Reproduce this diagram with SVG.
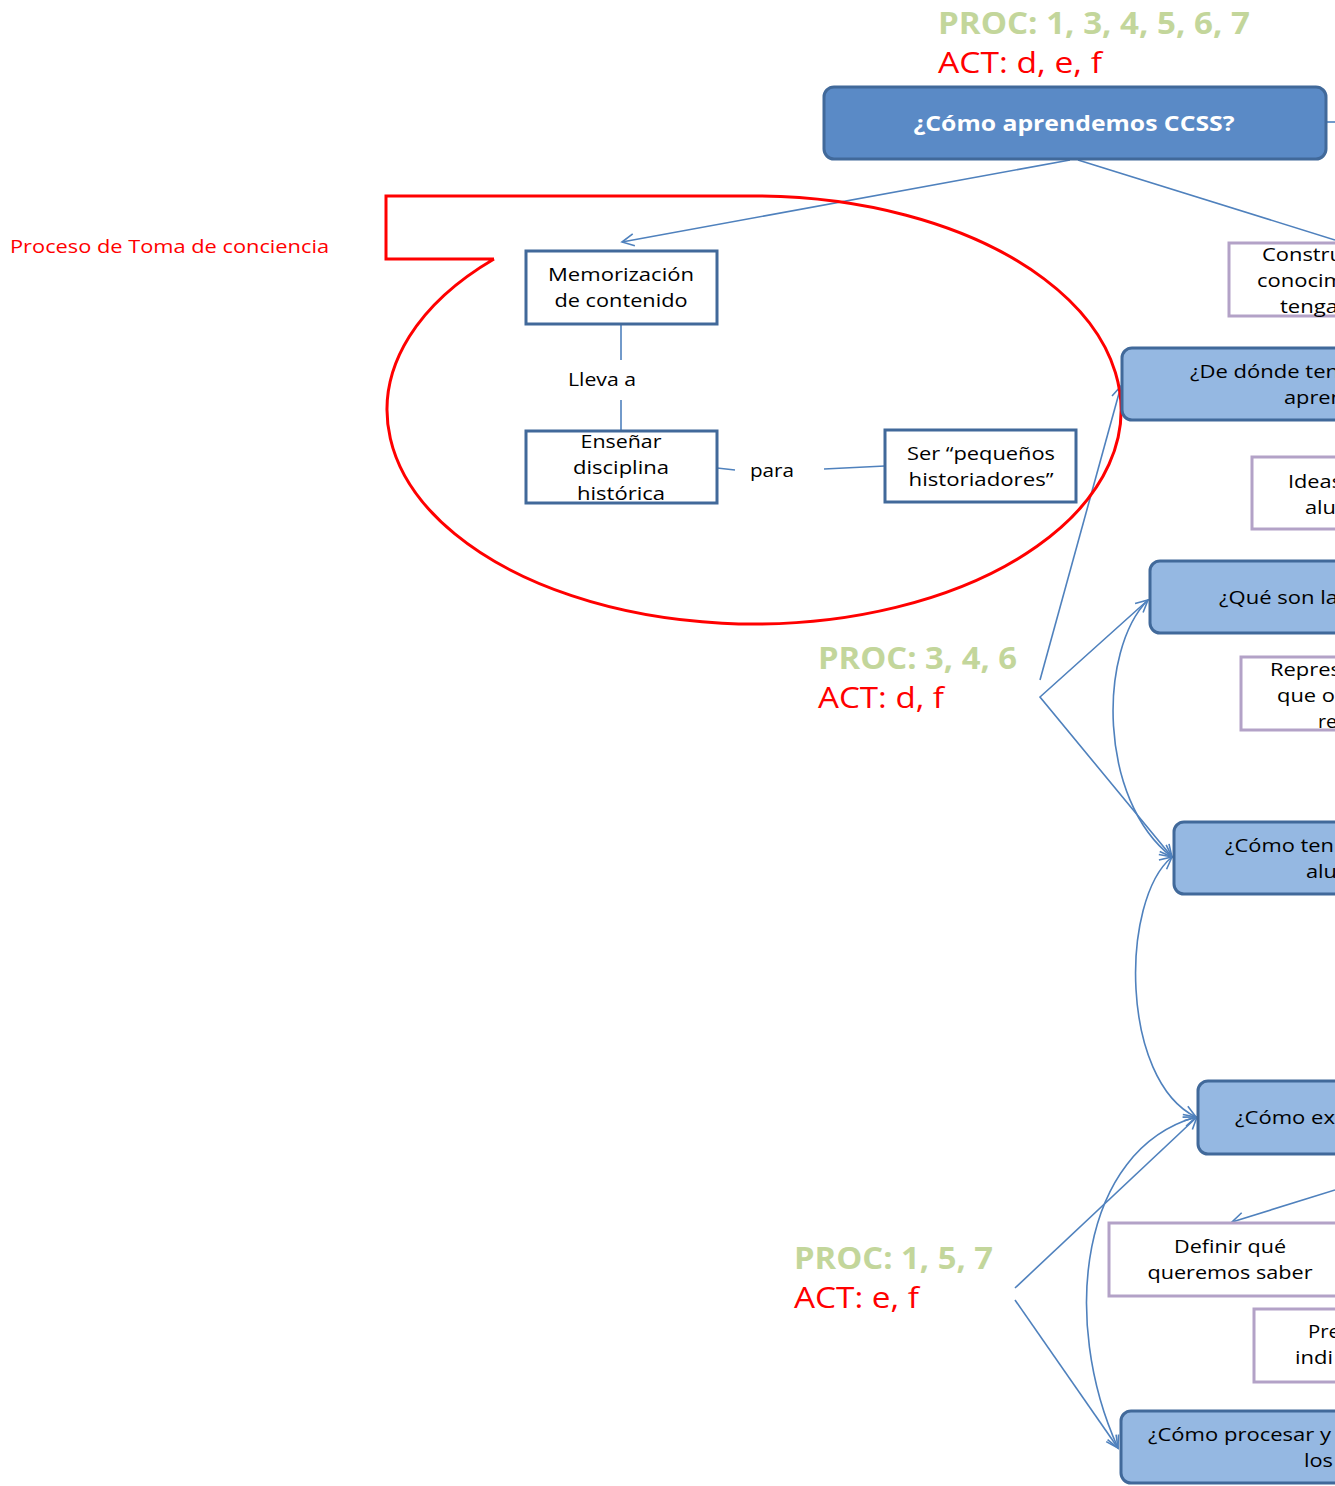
<svg xmlns="http://www.w3.org/2000/svg" width="1335" height="1486" viewBox="0 0 1335 1486">
  <defs>
    <marker id="arr" markerUnits="userSpaceOnUse" markerWidth="16" markerHeight="16" viewBox="0 0 16 16" refX="13" refY="8" orient="auto-start-reverse">
      <path d="M1,2 L13,8 L1,14" fill="none" stroke="#4F81BD" stroke-width="1.6"/>
    </marker>
    <style>
      .t { font-family: "Open Sans", "Liberation Sans", sans-serif; font-size: 19px; fill: #000; }
      .c { text-anchor: middle; }
      .dark { fill: #FFFFFF; stroke: #41699A; stroke-width: 3; }
      .q { fill: #95B8E2; stroke: #41699A; stroke-width: 3; }
      .lav { fill: #FFFFFF; stroke: #B3A2C7; stroke-width: 3; }
      .main { fill: #5A8AC6; stroke: #41699A; stroke-width: 3; }
      .proc { font-family: "Open Sans", "Liberation Sans", sans-serif; font-weight: bold; font-size: 30px; fill: #C3D69B; }
      .act { font-family: "Open Sans", "Liberation Sans", sans-serif; font-size: 30px; fill: #FF0000; }
      .cn { fill: none; stroke: #4F81BD; stroke-width: 1.6; }
    </style>
  </defs>

  <rect width="1335" height="1486" fill="#FFFFFF"/>

  <!-- connectors -->
  <g id="connectors">
    <line class="cn" x1="1326" y1="122" x2="1335" y2="122"/>
    <line class="cn" x1="1070" y1="160" x2="622" y2="242" marker-end="url(#arr)"/>
    <line class="cn" x1="1078" y1="160" x2="1335" y2="240"/>
    <line class="cn" x1="621" y1="324" x2="621" y2="360"/>
    <line class="cn" x1="621" y1="400" x2="621" y2="431"/>
    <line class="cn" x1="717" y1="468" x2="735" y2="470"/>
    <line class="cn" x1="824" y1="469" x2="885" y2="466"/>
    <line class="cn" x1="1040" y1="680" x2="1121" y2="386" marker-end="url(#arr)"/>
    <polyline class="cn" points="1148,600 1040,697 1172,857" marker-start="url(#arr)" marker-end="url(#arr)"/>
    <path class="cn" d="M1148,600 C1098,650 1098,800 1172,857" marker-end="url(#arr)"/>
    <path class="cn" d="M1172,857 C1120,900 1120,1080 1196,1117" marker-start="url(#arr)" marker-end="url(#arr)"/>
    <line class="cn" x1="1015" y1="1288" x2="1197" y2="1117" marker-end="url(#arr)"/>
    <line class="cn" x1="1015" y1="1300" x2="1118" y2="1448" marker-end="url(#arr)"/>
    <path class="cn" d="M1196,1117 C1080,1150 1060,1320 1118,1448" marker-start="url(#arr)" marker-end="url(#arr)"/>
    <line class="cn" x1="1335" y1="1190" x2="1232" y2="1222" marker-end="url(#arr)"/>
  </g>

  <!-- process / activity tags -->
  <text class="proc" x="938" y="34" textLength="312" lengthAdjust="spacingAndGlyphs">PROC: 1, 3, 4, 5, 6, 7</text>
  <text class="act" x="938" y="73" textLength="164" lengthAdjust="spacingAndGlyphs">ACT: d, e, f</text>
  <text class="proc" x="818" y="669" textLength="199" lengthAdjust="spacingAndGlyphs">PROC: 3, 4, 6</text>
  <text class="act" x="818" y="708" textLength="126" lengthAdjust="spacingAndGlyphs">ACT: d, f</text>
  <text class="proc" x="794" y="1269" textLength="199" lengthAdjust="spacingAndGlyphs">PROC: 1, 5, 7</text>
  <text class="act" x="794" y="1308" textLength="125" lengthAdjust="spacingAndGlyphs">ACT: e, f</text>

  <!-- callout -->
  <g id="callout">
    <path d="M494,259 L386,259 L386,196 L752,196 A367,214 0 1 1 494,259" fill="none" stroke="#FF0000" stroke-width="3"/>
    <text x="10" y="253" font-family="Open Sans, Liberation Sans, sans-serif" font-size="19" fill="#FF0000" textLength="319" lengthAdjust="spacingAndGlyphs">Proceso de Toma de conciencia</text>
  </g>

  <g id="main">
    <rect class="main" x="824" y="87" width="502" height="72" rx="10"/>
    <text x="1074" y="131" text-anchor="middle" font-family="Open Sans, Liberation Sans, sans-serif" font-weight="bold" font-size="21" fill="#FFFFFF" textLength="321" lengthAdjust="spacingAndGlyphs">¿Cómo aprendemos CCSS?</text>
  </g>

  <g id="memorizacion">
    <rect class="dark" x="526" y="251" width="191" height="73"/>
    <text class="t c" x="621" y="281" textLength="146" lengthAdjust="spacingAndGlyphs">Memorización</text>
    <text class="t c" x="621" y="307" textLength="133" lengthAdjust="spacingAndGlyphs">de contenido</text>
  </g>
  <text class="t c" x="602" y="386" textLength="68" lengthAdjust="spacingAndGlyphs">Lleva a</text>

  <g id="ensenar">
    <rect class="dark" x="526" y="431" width="191" height="72"/>
    <text class="t c" x="621" y="448" textLength="81" lengthAdjust="spacingAndGlyphs">Enseñar</text>
    <text class="t c" x="621" y="474" textLength="96" lengthAdjust="spacingAndGlyphs">disciplina</text>
    <text class="t c" x="621" y="500" textLength="88" lengthAdjust="spacingAndGlyphs">histórica</text>
  </g>
  <text class="t c" x="772" y="477" textLength="44" lengthAdjust="spacingAndGlyphs">para</text>

  <g id="historiadores">
    <rect class="dark" x="885" y="430" width="191" height="72"/>
    <text class="t c" x="981" y="460" textLength="148" lengthAdjust="spacingAndGlyphs">Ser “pequeños</text>
    <text class="t c" x="981" y="486" textLength="145" lengthAdjust="spacingAndGlyphs">historiadores”</text>
  </g>

  <g id="construir">
    <rect class="lav" x="1229" y="243" width="130" height="73"/>
    <text class="t" x="1262" y="261" textLength="81" lengthAdjust="spacingAndGlyphs">Constru</text>
    <text class="t" x="1257" y="287" textLength="87" lengthAdjust="spacingAndGlyphs">conocim</text>
    <text class="t" x="1280" y="313" textLength="58" lengthAdjust="spacingAndGlyphs">tenga</text>
  </g>

  <g id="de-donde">
    <rect class="q" x="1122" y="348" width="240" height="72" rx="10"/>
    <text class="t" x="1190" y="378" textLength="149" lengthAdjust="spacingAndGlyphs">¿De dónde ten</text>
    <text class="t" x="1284" y="404" textLength="60" lengthAdjust="spacingAndGlyphs">apren</text>
  </g>

  <g id="ideas">
    <rect class="lav" x="1252" y="457" width="110" height="72"/>
    <text class="t" x="1288" y="488" textLength="54" lengthAdjust="spacingAndGlyphs">Ideas</text>
    <text class="t" x="1305" y="514" textLength="31" lengthAdjust="spacingAndGlyphs">alu</text>
  </g>

  <g id="que-son">
    <rect class="q" x="1150" y="561" width="220" height="72" rx="10"/>
    <text class="t" x="1219" y="604" textLength="119" lengthAdjust="spacingAndGlyphs">¿Qué son la</text>
  </g>

  <g id="representaciones">
    <rect class="lav" x="1241" y="657" width="120" height="73"/>
    <text class="t" x="1270" y="676" textLength="71" lengthAdjust="spacingAndGlyphs">Repres</text>
    <text class="t" x="1277" y="702" textLength="58" lengthAdjust="spacingAndGlyphs">que o</text>
    <text class="t" x="1318" y="728" textLength="19" lengthAdjust="spacingAndGlyphs">re</text>
  </g>

  <g id="como-tenemos">
    <rect class="q" x="1174" y="822" width="200" height="72" rx="10"/>
    <text class="t" x="1225" y="852" textLength="109" lengthAdjust="spacingAndGlyphs">¿Cómo ten</text>
    <text class="t" x="1306" y="878" textLength="31" lengthAdjust="spacingAndGlyphs">alu</text>
  </g>

  <g id="como-explorar">
    <rect class="q" x="1198" y="1081" width="180" height="73" rx="10"/>
    <text class="t" x="1235" y="1124" textLength="100" lengthAdjust="spacingAndGlyphs">¿Cómo ex</text>
  </g>

  <g id="definir">
    <rect class="lav" x="1109" y="1223" width="242" height="73"/>
    <text class="t c" x="1230" y="1253" textLength="112" lengthAdjust="spacingAndGlyphs">Definir qué</text>
    <text class="t c" x="1230" y="1279" textLength="165" lengthAdjust="spacingAndGlyphs">queremos saber</text>
  </g>

  <g id="preguntas">
    <rect class="lav" x="1254" y="1309" width="110" height="73"/>
    <text class="t" x="1308" y="1338" textLength="32" lengthAdjust="spacingAndGlyphs">Pre</text>
    <text class="t" x="1295" y="1364" textLength="38" lengthAdjust="spacingAndGlyphs">indi</text>
  </g>

  <g id="como-procesar">
    <rect class="q" x="1121" y="1411" width="240" height="72" rx="10"/>
    <text class="t" x="1148" y="1441" textLength="183" lengthAdjust="spacingAndGlyphs">¿Cómo procesar y</text>
    <text class="t" x="1304" y="1467" textLength="29" lengthAdjust="spacingAndGlyphs">los</text>
  </g>
</svg>
